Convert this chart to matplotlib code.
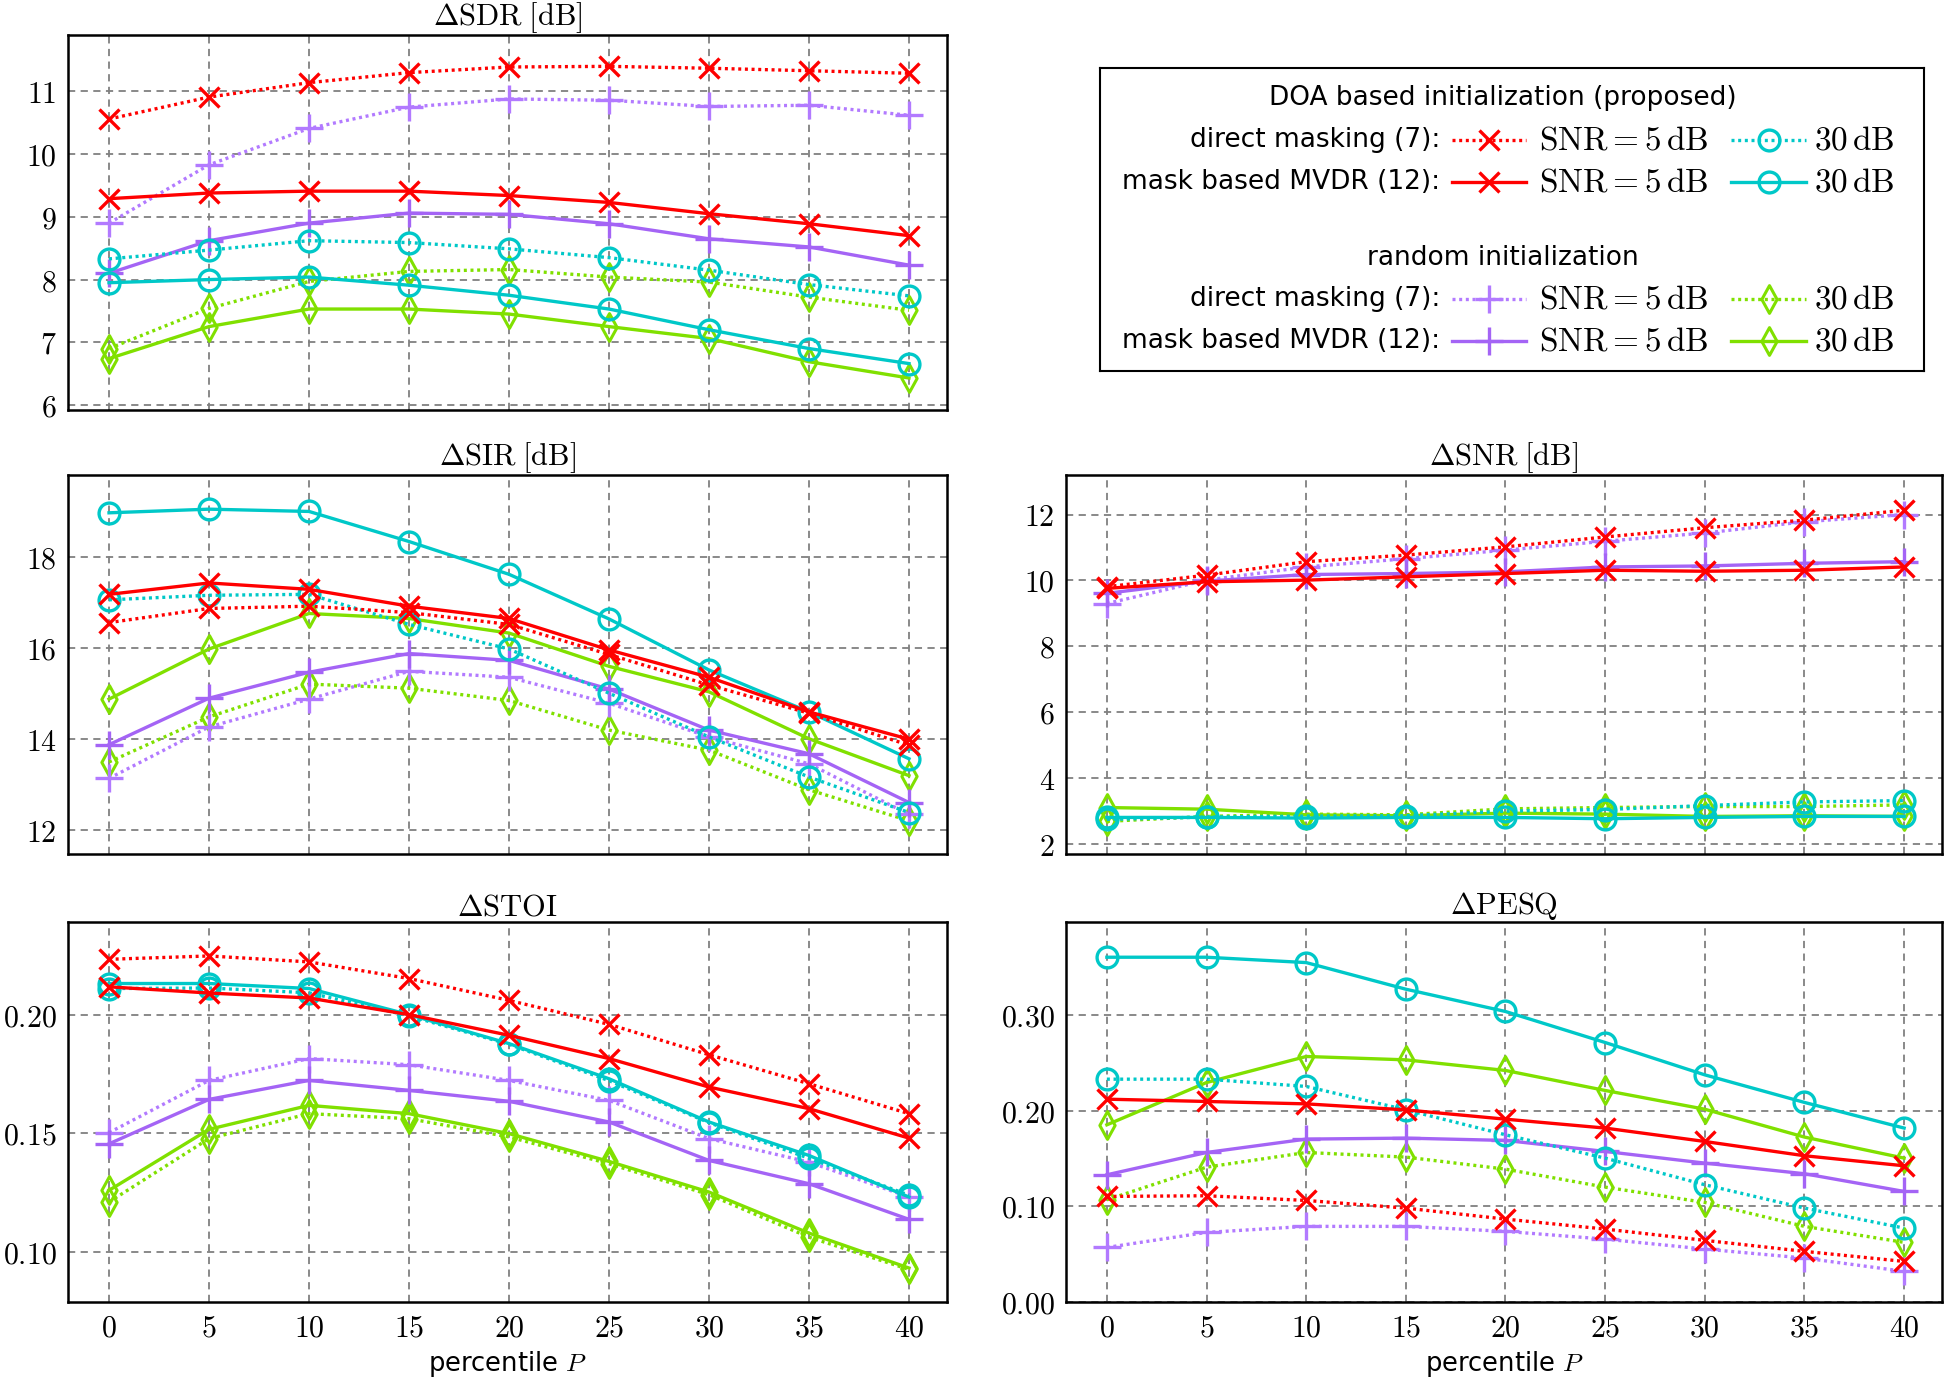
import matplotlib
matplotlib.use("Agg")
import matplotlib.pyplot as plt
from matplotlib.lines import Line2D
from matplotlib.path import Path

plt.rcParams['mathtext.fontset'] = 'cm'
plt.rcParams['font.family'] = ['DejaVu Sans']

P = [0, 5, 10, 15, 20, 25, 30, 35, 40]

# series: DOA direct 5dB, DOA direct 30dB, DOA MVDR 5dB, DOA MVDR 30dB,
#         rand direct 5dB, rand direct 30dB, rand MVDR 5dB, rand MVDR 30dB
sdr_doa_dm_5 = [10.56, 10.91, 11.14, 11.30, 11.39, 11.40, 11.37, 11.33, 11.29]
sdr_doa_dm_30 = [8.33, 8.47, 8.62, 8.59, 8.49, 8.35, 8.15, 7.92, 7.74]
sdr_doa_mv_5 = [9.29, 9.38, 9.41, 9.41, 9.34, 9.23, 9.05, 8.89, 8.70]
sdr_doa_mv_30 = [7.95, 8.00, 8.04, 7.91, 7.75, 7.53, 7.20, 6.90, 6.66]
sdr_rnd_dm_5 = [8.90, 9.83, 10.41, 10.75, 10.88, 10.86, 10.76, 10.78, 10.62]
sdr_rnd_dm_30 = [6.90, 7.54, 7.97, 8.13, 8.16, 8.04, 7.96, 7.72, 7.51]
sdr_rnd_mv_5 = [8.10, 8.62, 8.90, 9.06, 9.04, 8.89, 8.65, 8.52, 8.23]
sdr_rnd_mv_30 = [6.74, 7.25, 7.53, 7.53, 7.45, 7.25, 7.06, 6.69, 6.43]

sir_doa_dm_5 = [16.56, 16.87, 16.92, 16.78, 16.52, 15.86, 15.19, 14.57, 13.87]
sir_doa_dm_30 = [17.06, 17.16, 17.18, 16.52, 15.98, 15.01, 14.05, 13.17, 12.39]
sir_doa_mv_5 = [17.18, 17.43, 17.29, 16.92, 16.65, 15.96, 15.36, 14.60, 14.00]
sir_doa_mv_30 = [18.97, 19.05, 19.00, 18.34, 17.62, 16.64, 15.52, 14.60, 13.57]
sir_rnd_dm_5 = [13.14, 14.27, 14.88, 15.49, 15.36, 14.79, 14.05, 13.46, 12.35]
sir_rnd_dm_30 = [13.50, 14.49, 15.21, 15.12, 14.85, 14.20, 13.76, 12.89, 12.21]
sir_rnd_mv_5 = [13.88, 14.90, 15.47, 15.88, 15.73, 15.10, 14.20, 13.68, 12.61]
sir_rnd_mv_30 = [14.88, 15.98, 16.76, 16.65, 16.33, 15.60, 15.04, 14.01, 13.20]

snr_doa_dm_5 = [9.81, 10.16, 10.57, 10.77, 11.02, 11.32, 11.60, 11.83, 12.13]
snr_doa_dm_30 = [2.75, 2.82, 2.85, 2.86, 3.00, 3.05, 3.17, 3.28, 3.32]
snr_doa_mv_5 = [9.76, 9.96, 10.01, 10.11, 10.21, 10.31, 10.28, 10.31, 10.41]
snr_doa_mv_30 = [2.81, 2.81, 2.79, 2.81, 2.81, 2.77, 2.81, 2.84, 2.84]
snr_rnd_dm_5 = [9.30, 10.01, 10.41, 10.66, 10.92, 11.19, 11.44, 11.78, 12.00]
snr_rnd_dm_30 = [2.69, 2.84, 2.91, 2.89, 3.07, 3.11, 3.14, 3.14, 3.19]
snr_rnd_mv_5 = [9.61, 9.98, 10.18, 10.21, 10.26, 10.41, 10.44, 10.52, 10.57]
snr_rnd_mv_30 = [3.11, 3.06, 2.89, 2.86, 2.94, 2.91, 2.84, 2.86, 2.84]

stoi_doa_dm_5 = [0.2233, 0.2247, 0.2222, 0.2152, 0.2060, 0.1959, 0.1831, 0.1709, 0.1583]
stoi_doa_dm_30 = [0.2110, 0.2112, 0.2092, 0.1995, 0.1875, 0.1722, 0.1545, 0.1395, 0.1240]
stoi_doa_mv_5 = [0.2117, 0.2091, 0.2070, 0.2000, 0.1913, 0.1815, 0.1695, 0.1604, 0.1480]
stoi_doa_mv_30 = [0.2131, 0.2131, 0.2110, 0.2000, 0.1878, 0.1730, 0.1548, 0.1407, 0.1232]
stoi_rnd_dm_5 = [0.1503, 0.1723, 0.1815, 0.1789, 0.1723, 0.1639, 0.1478, 0.1379, 0.1232]
stoi_rnd_dm_30 = [0.1211, 0.1478, 0.1583, 0.1562, 0.1485, 0.1372, 0.1242, 0.1063, 0.0927]
stoi_rnd_mv_5 = [0.1456, 0.1643, 0.1723, 0.1681, 0.1635, 0.1548, 0.1386, 0.1288, 0.1138]
stoi_rnd_mv_30 = [0.1260, 0.1517, 0.1618, 0.1583, 0.1499, 0.1382, 0.1253, 0.1080, 0.0933]

pesq_doa_dm_5 = [0.1103, 0.1110, 0.1061, 0.0981, 0.0866, 0.0762, 0.0644, 0.0529, 0.0424]
pesq_doa_dm_30 = [0.2328, 0.2328, 0.2252, 0.2008, 0.1747, 0.1503, 0.1225, 0.0981, 0.0772]
pesq_doa_mv_5 = [0.2119, 0.2095, 0.2070, 0.2007, 0.1910, 0.1817, 0.1677, 0.1528, 0.1423]
pesq_doa_mv_30 = [0.3602, 0.3602, 0.3546, 0.3268, 0.3035, 0.2711, 0.2373, 0.2085, 0.1817]
pesq_rnd_dm_5 = [0.0570, 0.0727, 0.0790, 0.0790, 0.0738, 0.0657, 0.0553, 0.0459, 0.0320]
pesq_rnd_dm_30 = [0.1068, 0.1409, 0.1562, 0.1514, 0.1388, 0.1200, 0.1040, 0.0790, 0.0623]
pesq_rnd_mv_5 = [0.1329, 0.1562, 0.1702, 0.1712, 0.1688, 0.1573, 0.1451, 0.1340, 0.1155]
pesq_rnd_mv_30 = [0.1851, 0.2293, 0.2565, 0.2530, 0.2419, 0.2210, 0.2014, 0.1723, 0.1503]

titles = [r'$\Delta\mathrm{SDR}\;[\mathrm{dB}]$', r'$\Delta\mathrm{SIR}\;[\mathrm{dB}]$',
          r'$\Delta\mathrm{SNR}\;[\mathrm{dB}]$', r'$\Delta\mathrm{STOI}$', r'$\Delta\mathrm{PESQ}$']
sdr_ticks = [6, 7, 8, 9, 10, 11]
sir_ticks = [12, 14, 16, 18]
snr_ticks = [2, 4, 6, 8, 10, 12]
stoi_ticks = [0.10, 0.15, 0.20]
pesq_ticks = [0.00, 0.10, 0.20, 0.30]

RED = '#ff0000'
CYAN = '#00c8c8'
PURP_D = '#b27aff'
PURP_S = '#a464f5'
GREEN = '#80e000'

DIAMOND = Path([(0, -1), (0.55, 0), (0, 1), (-0.55, 0), (0, -1)],
               [Path.MOVETO, Path.LINETO, Path.LINETO, Path.LINETO, Path.CLOSEPOLY])

DOT = (0, (0.9, 1.1))
LW = 2.4
styles = {
    'doa_dm_5': dict(color=RED, ls=DOT, marker='x', ms=15, mew=2.4),
    'doa_dm_30': dict(color=CYAN, ls=DOT, marker='o', ms=15, mew=2.4, mfc='none'),
    'doa_mv_5': dict(color=RED, ls='-', marker='x', ms=15, mew=2.4),
    'doa_mv_30': dict(color=CYAN, ls='-', marker='o', ms=15, mew=2.4, mfc='none'),
    'rnd_dm_5': dict(color=PURP_D, ls=DOT, marker='+', ms=20, mew=2.4),
    'rnd_dm_30': dict(color=GREEN, ls=DOT, marker=DIAMOND, ms=20, mew=2.2, mfc='none'),
    'rnd_mv_5': dict(color=PURP_S, ls='-', marker='+', ms=20, mew=2.4),
    'rnd_mv_30': dict(color=GREEN, ls='-', marker=DIAMOND, ms=20, mew=2.2, mfc='none'),
}
order = ['rnd_dm_30', 'rnd_mv_30', 'rnd_dm_5', 'rnd_mv_5', 'doa_dm_30', 'doa_mv_30', 'doa_dm_5', 'doa_mv_5']

W, H = 1946, 1380
fig = plt.figure(figsize=(W / 100, H / 100), dpi=100)


def rect(l, t, r, b):
    return [l / W, 1 - b / H, (r - l) / W, (b - t) / H]


panels = [
    ('sdr', rect(68, 35, 947, 410), (5.92, 11.9), sdr_ticks, '{:d}', titles[0], False),
    ('sir', rect(68, 475, 947, 854), (11.48, 19.8), sir_ticks, '{:d}', titles[1], False),
    ('snr', rect(1066, 475, 1942, 854), (1.7, 13.2), snr_ticks, '{:d}', titles[2], False),
    ('stoi', rect(68, 922, 947, 1302), (0.079, 0.239), stoi_ticks, '{:.2f}', titles[3], True),
    ('pesq', rect(1066, 922, 1942, 1302), (0.0, 0.397), pesq_ticks, '{:.2f}', titles[4], True),
]

TICKFS = 21.5
g = globals()
for name, r, ylim, yt, fmt, title, showx in panels:
    ax = fig.add_axes(r)
    for key in order:
        ax.plot(P, g[f'{name}_{key}'], lw=LW, **styles[key])
    ax.set_xlim(-2.05, 41.9)
    ax.set_ylim(*ylim)
    ax.set_xticks(P)
    if showx:
        ax.set_xticklabels([f'${p}$' for p in P])
        ax.set_xlabel(r'percentile $P$', fontsize=18.5, labelpad=5)
    else:
        ax.set_xticklabels([])
    ax.set_yticks(yt)
    ax.set_yticklabels(['$' + fmt.format(t) + '$' for t in yt])
    ax.tick_params(length=0, labelsize=TICKFS, pad=8)
    ax.grid(True, color='#808080', ls=(0, (4, 3)), lw=1.3)
    ax.set_axisbelow(True)
    for s in ax.spines.values():
        s.set_linewidth(1.8)
    ax.set_title(title, fontsize=22, pad=3)

# custom legend box
lax = fig.add_axes(rect(1100, 68, 1924, 371))
lax.set_xlim(1100, 1924)
lax.set_ylim(371, 68)
lax.set_xticks([])
lax.set_yticks([])
for s in lax.spines.values():
    s.set_linewidth(1.5)

FS = 19
lax.text(1503, 98, 'DOA based initialization (proposed)', ha='center', va='center', fontsize=FS)
lax.text(1503, 258, 'random initialization', ha='center', va='center', fontsize=FS)
rows = [
    (140, 'direct masking (7):', 'doa_dm_5', 'doa_dm_30'),
    (182, 'mask based MVDR (12):', 'doa_mv_5', 'doa_mv_30'),
    (299, 'direct masking (7):', 'rnd_dm_5', 'rnd_dm_30'),
    (341, 'mask based MVDR (12):', 'rnd_mv_5', 'rnd_mv_30'),
]
for y, lab, k1, k2 in rows:
    lax.text(1440, y, lab, ha='right', va='center', fontsize=FS)
    for (x0, x1, tx, txt, k) in [(1452, 1526, 1539, r'$\mathrm{SNR} = 5\,\mathrm{dB}$', k1),
                                 (1731, 1806, 1814, r'$30\,\mathrm{dB}$', k2)]:
        st = dict(styles[k])
        lax.add_line(Line2D([x0, x1], [y, y], lw=LW, color=st['color'], ls=st['ls']))
        mk = {kk: v for kk, v in st.items() if kk not in ('ls',)}
        lax.add_line(Line2D([(x0 + x1) / 2], [y], ls='none', **mk))
        lax.text(tx, y, txt, ha='left', va='center', fontsize=24)

fig.savefig('out.png', dpi=100)
